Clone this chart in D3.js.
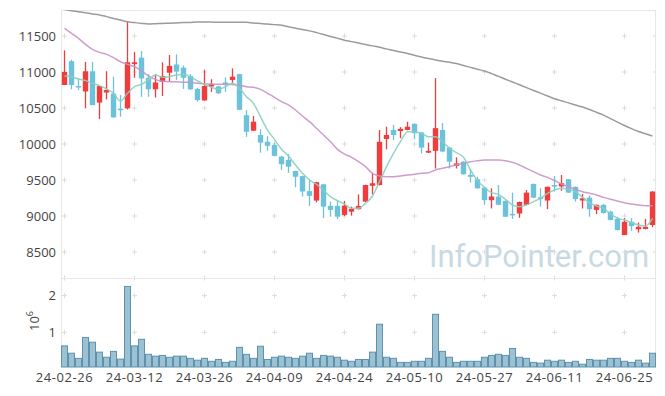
<!DOCTYPE html>
<html><head><meta charset="utf-8">
<script src="https://cdn.jsdelivr.net/npm/d3@7"></script>
<style>html,body{margin:0;padding:0;background:#fff;}svg{display:block;font-family:"Open Sans","Noto Sans",sans-serif;}</style>
</head><body><svg id="c" width="665" height="396"></svg>
<script>
const dates = ["24-02-26","24-02-27","24-02-28","24-02-29","24-03-04","24-03-05","24-03-06","24-03-07","24-03-08","24-03-11",
"24-03-12","24-03-13","24-03-14","24-03-15","24-03-18","24-03-19","24-03-20","24-03-21","24-03-22","24-03-25",
"24-03-26","24-03-27","24-03-28","24-03-29","24-04-01","24-04-02","24-04-03","24-04-04","24-04-05","24-04-08",
"24-04-09","24-04-11","24-04-12","24-04-15","24-04-16","24-04-17","24-04-18","24-04-19","24-04-22","24-04-23",
"24-04-24","24-04-25","24-04-26","24-04-29","24-04-30","24-05-02","24-05-03","24-05-07","24-05-08","24-05-09",
"24-05-10","24-05-13","24-05-14","24-05-16","24-05-17","24-05-20","24-05-21","24-05-22","24-05-23","24-05-24",
"24-05-27","24-05-28","24-05-29","24-05-30","24-05-31","24-06-03","24-06-04","24-06-05","24-06-07","24-06-10",
"24-06-11","24-06-12","24-06-13","24-06-14","24-06-17","24-06-18","24-06-19","24-06-20","24-06-21","24-06-24",
"24-06-25","24-06-26","24-06-27","24-06-28","24-07-01"];
const open = [10820,11150,10805,10730,11010,10575,10715,10700,10490,10495,
11110,11200,10920,10760,10865,10990,11105,11060,10945,10765,
10605,10800,10800,10855,10890,10970,10400,10185,10125,10030,
9985,9825,9780,9625,9555,9345,9215,9440,9140,9140,
9015,9060,9095,9200,9420,9430,10070,10195,10180,10195,
10280,10160,9880,9905,10195,9950,9695,9755,9570,9510,
9395,9220,9270,9210,9030,9035,9155,9445,9260,9215,
9430,9410,9510,9405,9215,9255,9085,9155,9060,8960,
8735,8920,8815,8820,8875];
const high = [11300,11170,10910,11140,11140,10810,11010,10935,10680,11700,
11280,11290,10970,10970,11135,11235,11245,11090,10970,10780,
11030,10900,10810,10925,11050,10975,10470,10390,10205,10110,
10020,9835,9860,9630,9560,9500,9475,9445,9200,9215,
9210,9130,9300,9435,9595,10195,10240,10265,10235,10310,
10285,10170,10020,10915,10290,9960,9815,9760,9650,9545,
9400,9385,9430,9215,9325,9200,9360,9450,9385,9410,
9555,9570,9515,9410,9305,9285,9160,9165,9075,8990,
8970,8970,8910,8960,9345];
const low = [10820,10760,10750,10495,10540,10345,10620,10365,10380,10480,
10920,10655,10655,10645,10665,10865,10890,10765,10750,10590,
10600,10725,10695,10725,10845,10470,10100,10180,9880,9905,
9830,9640,9600,9400,9270,9140,9190,8970,8990,8955,
9000,9005,9090,9195,9300,9425,9925,10055,10080,10190,
10065,9870,9875,9660,9890,9660,9660,9575,9465,9380,
9155,9105,9150,8985,8960,8975,9150,9250,9130,9095,
9340,9350,9320,9200,9105,8990,9025,9035,8940,8800,
8735,8795,8770,8815,8845];
const close = [11000,10820,10785,11010,10540,10805,10750,10370,10475,11135,
11135,10910,10760,10855,10945,11085,11005,10920,10760,10610,
10805,10830,10705,10830,10935,10475,10170,10310,10020,9975,
9835,9720,9685,9545,9340,9280,9470,9130,9085,8990,
9145,9100,9140,9430,9455,10030,10125,10125,10210,10240,
10150,9950,9905,10220,9895,9755,9730,9580,9545,9385,
9220,9270,9155,8990,9015,9195,9325,9255,9235,9405,
9410,9455,9325,9235,9245,9095,9155,9040,8945,8805,
8920,8860,8850,8850,9340];
const ma5 = [10944,10935,10903,10880,10843,10810,10764,10704,10597,10704,
10796,10829,10889,10958,10926,10935,10958,10968,10935,10875,
10826,10787,10759,10796,10843,10773,10657,10565,10380,10194,
10065,9926,9833,9708,9593,9500,9440,9361,9268,9213,
9165,9107,9107,9176,9278,9477,9685,9870,10032,10171,
10171,10148,10102,10102,10032,9940,9880,9815,9639,9491,
9398,9324,9300,9232,9153,9129,9153,9199,9245,9315,
9361,9384,9370,9338,9259,9185,9139,9107,9028,8968,
8944,8907,8875,8861,8968];
const ma20 = [11607,11537,11468,11384,11315,11273,11245,11199,11143,11106,
11074,11014,10945,10895,10870,10866,10866,10856,10856,10843,
10833,10833,10829,10829,10824,10815,10796,10787,10759,10704,
10648,10588,10542,10472,10389,10310,10218,10125,10032,9926,
9860,9815,9755,9685,9593,9556,9546,9546,9556,9569,
9579,9593,9602,9639,9662,9685,9708,9731,9755,9768,
9778,9778,9778,9768,9745,9708,9662,9616,9569,9537,
9491,9444,9407,9370,9338,9315,9292,9259,9232,9208,
9185,9167,9153,9143,9143];
const maLong = [11867,11851,11836,11822,11807,11793,11769,11744,11721,11697,
11686,11675,11667,11671,11675,11678,11682,11686,11689,11693,
11694,11693,11692,11692,11692,11691,11690,11681,11674,11667,
11658,11649,11628,11608,11589,11571,11547,11521,11494,11467,
11442,11422,11403,11383,11363,11343,11321,11300,11278,11257,
11232,11208,11188,11167,11149,11136,11117,11090,11064,11038,
11013,10978,10939,10900,10861,10822,10783,10744,10706,10667,
10629,10600,10571,10542,10513,10479,10440,10401,10353,10304,
10257,10214,10174,10143,10111];
const volume = [630000,430000,290000,860000,730000,460000,320000,480000,270000,2250000,
630000,810000,400000,350000,370000,320000,350000,350000,290000,240000,
290000,210000,260000,180000,210000,590000,400000,290000,620000,260000,
320000,350000,320000,290000,350000,430000,290000,370000,350000,320000,
240000,210000,260000,260000,460000,1220000,320000,290000,180000,180000,
210000,210000,290000,1490000,480000,320000,180000,210000,210000,210000,
320000,370000,400000,370000,560000,320000,290000,180000,160000,240000,
210000,240000,180000,210000,130000,260000,240000,240000,290000,290000,
210000,180000,240000,160000,430000];
const xTickLabels = ["24-02-26","24-03-12","24-03-26","24-04-09","24-04-24","24-05-10","24-05-27","24-06-11","24-06-25"];
const priceTicks = [8500,9000,9500,10000,10500,11000,11500];
const volTicks = [1000000,2000000];
const volTickLabels = ["1","2"];

const L=61, R=656, PT=10, PB=278, VT=278, VB=367;
const svg = d3.select("#c");
const x = d3.scaleBand().domain(dates).range([L,R]).padding(0);
const bw = x.bandwidth();
const cx = d => x(d)+bw/2;
const y = d3.scaleLinear().domain([8500-26*500/36, 11500+26*500/36]).range([PB,PT]);
const vy = d3.scaleLinear().domain([1e6-(VB-332.3)/36.7*1e6, 2e6+(295.6-VT)/36.7*1e6]).range([VB,VT]);

const gridC = "#dcdcdc", frameC = "#e6e6e6";
// watermark
svg.append("text").attr("x",429).attr("y",267)
  .attr("font-size",31).attr("font-family","Roboto").attr("fill","#c9d9e3").text("InfoPointer.com");

// crosses
const crosses = [];
xTickLabels.forEach(d=>{ priceTicks.forEach(p=>crosses.push([cx(d),y(p)])); volTicks.forEach(v=>crosses.push([cx(d),vy(v)])); });
svg.append("g").selectAll("path").data(crosses).join("path")
  .attr("d",d=>`M${d[0]-2.5},${d[1]}h5M${d[0]},${d[1]-2.5}v5`).attr("stroke",gridC).attr("stroke-width",1);
svg.append("g").selectAll("path").data(xTickLabels).join("path")
  .attr("d",d=>`M${cx(d)},${PB-2.5}v5`).attr("stroke",gridC);
svg.append("g").selectAll("path").data(priceTicks).join("path")
  .attr("d",p=>`M${R-3},${y(p)}h3`).attr("stroke",gridC);

// frame
const fr = svg.append("g").attr("stroke",frameC).attr("stroke-width",1).attr("fill","none");
fr.append("path").attr("d",`M${L+0.5},${PT}V${VB}`);
fr.append("path").attr("d",`M${L},${PT+0.5}H${R}`);
fr.append("path").attr("d",`M${R-0.5},${PT}V${VB}`);
fr.append("path").attr("d",`M${L},${PB+0.5}H${R}`);

// axes labels
const tc = "#444";
const yAxis = d3.axisLeft(y).tickValues(priceTicks).tickFormat(d3.format("d")).tickSize(0).tickPadding(5);
const ya = svg.append("g").attr("transform",`translate(${L},0)`).call(yAxis);
ya.select(".domain").remove();
ya.selectAll("text").attr("font-size",13).attr("fill",tc).attr("font-family","Open Sans");
const vAxis = d3.axisLeft(vy).tickValues(volTicks).tickFormat((d,i)=>volTickLabels[i]).tickSize(0).tickPadding(5);
const va = svg.append("g").attr("transform",`translate(${L},0)`).call(vAxis);
va.select(".domain").remove();
va.selectAll("text").attr("font-size",13).attr("fill",tc).attr("font-family","Open Sans");
const xAxis = d3.axisBottom(x).tickValues(xTickLabels).tickSize(0).tickPadding(6);
const xa = svg.append("g").attr("transform",`translate(0,${VB})`).call(xAxis);
xa.select(".domain").remove();
xa.selectAll("text").attr("font-size",13).attr("fill",tc).attr("font-family","Open Sans").attr("letter-spacing","0.6px");
const vt = svg.append("text").attr("transform","translate(39,321) rotate(-90)").attr("text-anchor","middle")
  .attr("font-size",13).attr("fill",tc);
vt.append("tspan").text("10");
vt.append("tspan").attr("dy",-6).attr("font-size",9).text("6");

// clip
svg.append("defs").append("clipPath").attr("id","pc").append("rect").attr("x",L).attr("y",PT).attr("width",R-L).attr("height",PB-PT);

// volume bars
svg.append("g").selectAll("rect").data(dates).join("rect")
  .attr("x",d=>x(d)+0.5).attr("width",bw-1).attr("y",(d,i)=>vy(volume[i])).attr("height",(d,i)=>VB-vy(volume[i]))
  .attr("fill","#9cc1d3").attr("stroke","#5d93ac").attr("stroke-width",1);

// candles
const red="#f03c3c", blue="#6cc2da";
const cg = svg.append("g").attr("clip-path","url(#pc)");
const bodyW = 5.4;
dates.forEach((d,i)=>{
  const up = close[i]>=open[i];
  const col = up?red:blue;
  cg.append("line").attr("x1",cx(d)).attr("x2",cx(d)).attr("y1",y(high[i])).attr("y2",y(low[i])).attr("stroke",col).attr("stroke-width",1.3);
  const t = y(Math.max(open[i],close[i])), b = y(Math.min(open[i],close[i]));
  cg.append("rect").attr("x",cx(d)-bodyW/2).attr("width",bodyW).attr("y",t).attr("height",Math.max(1.5,b-t)).attr("fill",col);
});

// MA lines
const line = arr => d3.line().x((d,i)=>cx(dates[i])).y(v=>y(v)).curve(d3.curveMonotoneX)(arr);
const lg = svg.append("g").attr("clip-path","url(#pc)").attr("fill","none").attr("stroke-width",1.5);
lg.append("path").attr("d",line(maLong)).attr("stroke","#9b9b9b");
lg.append("path").attr("d",line(ma20)).attr("stroke","#c992c8").attr("opacity",0.9);
lg.append("path").attr("d",line(ma5)).attr("stroke","#8acfc1").attr("opacity",0.9);
</script></body></html>
